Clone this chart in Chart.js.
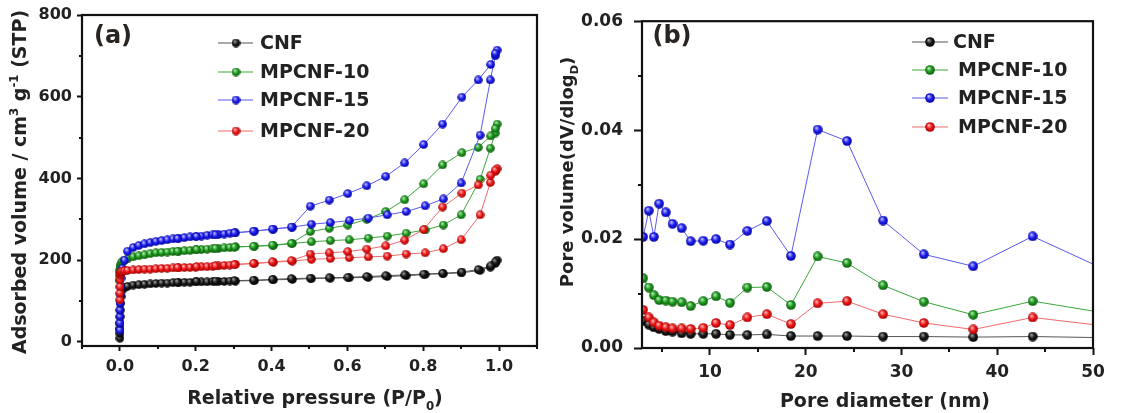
<!DOCTYPE html>
<html><head><meta charset="utf-8">
<script src="https://cdn.jsdelivr.net/npm/chart.js@4.4.1/dist/chart.umd.min.js"></script>
<style>
html,body{margin:0;padding:0;background:#fff;width:1130px;height:413px;overflow:hidden;}
#wa{position:absolute;left:0;top:0;width:560px;height:413px;}
#wb{position:absolute;left:560px;top:0;width:570px;height:413px;}
</style></head><body>
<div id="wa"><canvas id="ca" width="560" height="413"></canvas></div>
<div id="wb"><canvas id="cb" width="570" height="413"></canvas></div>
<script>
// ---------- Panel (a): N2 isotherms ----------
const seriesNames = ['CNF', 'MPCNF-10', 'MPCNF-15', 'MPCNF-20'];
const lowP = [0.00002, 0.00005, 0.0001, 0.0002, 0.0004, 0.0008, 0.0015, 0.003, 0.006, 0.012];
const cnfLowV  = [9, 21, 33, 46, 62, 78, 95, 111, 127, 133];
const mp10LowV = [150, 162, 170, 176, 181, 185, 189, 193, 197, 200];
const mp15LowV = [29, 46, 62, 78, 95, 115, 135, 156, 180, 200];
const mp20LowV = [103, 119, 135, 152, 163, 168, 170, 172, 173, 174];
const adsP = [0.02, 0.035, 0.05, 0.065, 0.08, 0.095, 0.11, 0.125, 0.14, 0.155, 0.17, 0.185, 0.2, 0.215, 0.23, 0.245, 0.26, 0.275, 0.29, 0.305, 0.355, 0.405, 0.455, 0.505, 0.555, 0.605, 0.655, 0.705, 0.755, 0.805, 0.853, 0.9, 0.95, 0.977, 0.99, 0.995];
const cnfAdsV  = [136, 139, 140, 141, 142, 143, 144, 144, 145, 145, 146, 146, 147, 147, 147, 148, 148, 148, 149, 149, 150, 152, 153, 155, 156, 157, 158, 160, 162, 165, 167, 169, 175, 183, 192, 200];
const mp10AdsV = [203, 208, 211, 213, 216, 218, 219, 220, 221, 222, 223, 224, 225, 226, 227, 228, 229, 230, 231, 233, 234, 236, 241, 245, 248, 250, 254, 259, 266, 274, 286, 311, 398, 474, 511, 533];
const mp15AdsV = [222, 231, 236, 240, 243, 246, 248, 250, 252, 254, 255, 257, 258, 259, 261, 262, 263, 264, 266, 267, 271, 276, 281, 288, 292, 297, 303, 311, 319, 333, 350, 389, 506, 641, 700, 714];
const mp20AdsV = [175, 176, 177, 178, 178, 179, 180, 180, 181, 181, 182, 182, 183, 184, 184, 185, 186, 187, 188, 190, 192, 195, 198, 202, 204, 206, 208, 210, 215, 218, 228, 250, 311, 390, 417, 424];
const desP = [0.99, 0.978, 0.945, 0.902, 0.851, 0.801, 0.751, 0.701, 0.651, 0.601, 0.552, 0.502, 0.452, 0.402, 0.352, 0.302, 0.252, 0.202, 0.152];
const cnfDesV  = [196, 186, 177, 171, 168, 166, 164, 162, 160, 158, 157, 156, 155, 153, 151, 150, 149, 148, 146];
const mp10DesV = [522, 504, 476, 463, 433, 387, 348, 319, 300, 286, 278, 270, 241, 237, 234, 232, 229, 226, 222];
const mp15DesV = [706, 679, 641, 599, 533, 483, 438, 405, 382, 363, 347, 332, 281, 276, 271, 267, 262, 258, 253];
const mp20DesV = [420, 408, 384, 364, 330, 275, 249, 235, 227, 221, 218, 215, 199, 196, 192, 189, 186, 184, 182];
const xTicksA = [0, 0.2, 0.4, 0.6, 0.8, 1.0];
const xMinorA = [-0.1, 0.1, 0.3, 0.5, 0.7, 0.9, 1.1];
const yTicksA = [0, 200, 400, 600, 800];
const yMinorA = [100, 300, 500, 700];

// ---------- Panel (b): pore size distribution ----------
const poreD  = [3.02, 3.61, 4.14, 4.69, 5.39, 6.09, 7.04, 7.98, 9.30, 10.63, 12.09, 13.9, 15.94, 18.45, 21.24, 24.31, 28.08, 32.33, 37.5, 43.7, 51];
const cnfPV  = [0.0050, 0.0043, 0.0038, 0.0035, 0.0031, 0.0030, 0.0027, 0.0026, 0.0026, 0.0026, 0.0024, 0.0024, 0.0025, 0.0022, 0.0022, 0.0022, 0.0021, 0.0021, 0.0020, 0.0021, 0.0019];
const mp10PV = [0.0128, 0.0111, 0.0097, 0.0088, 0.0087, 0.0085, 0.0084, 0.0077, 0.0086, 0.0095, 0.0083, 0.0111, 0.0112, 0.0079, 0.0168, 0.0156, 0.0115, 0.0085, 0.0061, 0.0086, 0.0065];
const mp15LeadD = [2.5];
const mp15LeadV = [0.075];
const mp15PV = [0.0204, 0.0252, 0.0204, 0.0265, 0.0249, 0.0228, 0.0220, 0.0196, 0.0197, 0.0200, 0.0190, 0.0215, 0.0233, 0.0169, 0.0401, 0.0380, 0.0234, 0.0172, 0.0150, 0.0205, 0.0146];
const mp20PV = [0.0070, 0.0056, 0.0047, 0.0041, 0.0038, 0.0036, 0.0036, 0.0035, 0.0037, 0.0046, 0.0042, 0.0056, 0.0062, 0.0044, 0.0082, 0.0086, 0.0062, 0.0046, 0.0034, 0.0056, 0.0041];
const xTicksB = [10, 20, 30, 40, 50];
const xMinorB = [5, 15, 25, 35, 45];
const yTicksB = [0, 0.02, 0.04, 0.06];
const yMinorB = [0.01, 0.03, 0.05];

// ---------- styling ----------
const FONT = "'DejaVu Sans', sans-serif";
Chart.defaults.font.family = FONT;
const lineColors = ['#555555', '#3aa63a', '#5a5aee', '#f06a6a'];
const sphereCols = [
  ['#9a9a9a', '#1a1a1a', '#000000'],
  ['#b0ecb0', '#1e9a1e', '#0a560a'],
  ['#c0c0ff', '#2020f0', '#00009a'],
  ['#ffb8b8', '#f01818', '#9a0000']
];
function sphere(c, d) {
  const cv = document.createElement('canvas'); cv.width = d; cv.height = d;
  const g = cv.getContext('2d'); const r = d / 2;
  const gr = g.createRadialGradient(r * 0.72, r * 0.62, r * 0.08, r, r, r);
  gr.addColorStop(0, c[0]); gr.addColorStop(0.5, c[1]); gr.addColorStop(1, c[2]);
  g.fillStyle = gr; g.beginPath(); g.arc(r, r, r - 0.2, 0, Math.PI * 2); g.fill();
  return cv;
}
const imgsA = sphereCols.map(c => sphere(c, 9));
const imgsB = sphereCols.map(c => sphere(c, 10));
function pairs(xs, ys) { return xs.map((x, i) => ({ x: x, y: ys[i] })); }

const ptsA = [
  pairs(lowP, cnfLowV).concat(pairs(adsP, cnfAdsV), pairs(desP, cnfDesV)),
  pairs(lowP, mp10LowV).concat(pairs(adsP, mp10AdsV), pairs(desP, mp10DesV)),
  pairs(lowP, mp15LowV).concat(pairs(adsP, mp15AdsV), pairs(desP, mp15DesV)),
  pairs(lowP, mp20LowV).concat(pairs(adsP, mp20AdsV), pairs(desP, mp20DesV))
];
const ptsB = [
  pairs(poreD, cnfPV),
  pairs(poreD, mp10PV),
  pairs(mp15LeadD, mp15LeadV).concat(pairs(poreD, mp15PV)),
  pairs(poreD, mp20PV)
];

function drawRich(ctx, x, y, rot, segs, size) {
  ctx.save();
  ctx.translate(x, y); ctx.rotate(rot);
  ctx.fillStyle = '#222'; ctx.textBaseline = 'alphabetic'; ctx.textAlign = 'left';
  let total = 0;
  segs.forEach(s => { const fs = s.k ? size * 0.62 : size; ctx.font = 'bold ' + fs + 'px ' + FONT; s.w = ctx.measureText(s.t).width; total += s.w; });
  let cx = -total / 2;
  segs.forEach(s => {
    const fs = s.k ? size * 0.62 : size; ctx.font = 'bold ' + fs + 'px ' + FONT;
    const dy = s.k === 'sup' ? -size * 0.42 : (s.k === 'sub' ? size * 0.3 : 0);
    ctx.fillText(s.t, cx, dy); cx += s.w;
  });
  ctx.restore();
}

const deco = {
  id: 'deco',
  afterDatasetsDraw(chart, args, o) {
    const ctx = chart.ctx, a = chart.chartArea, xs = chart.scales.x, ys = chart.scales.y;
    ctx.save();
    ctx.strokeStyle = '#111'; ctx.lineWidth = 2;
    ctx.beginPath();
    o.minorX.forEach(v => { const p = Math.round(xs.getPixelForValue(v)); ctx.moveTo(p, a.bottom); ctx.lineTo(p, a.bottom + o.minorLen); });
    o.minorY.forEach(v => { const p = Math.round(ys.getPixelForValue(v)); ctx.moveTo(a.left, p); ctx.lineTo(a.left - o.minorLen, p); });
    ctx.stroke();
    ctx.lineWidth = 2.2;
    ctx.strokeRect(a.left, a.top, a.right - a.left, a.bottom - a.top);
    // legend
    const L = o.legend;
    chart.data.datasets.forEach((ds, i) => {
      const yy = L.rows[i];
      ctx.strokeStyle = ds.borderColor; ctx.lineWidth = 1.2;
      ctx.beginPath(); ctx.moveTo(L.x0, yy); ctx.lineTo(L.x1, yy); ctx.stroke();
      const im = ds.pointStyle; ctx.drawImage(im, L.xm - im.width / 2, yy - im.height / 2);
      ctx.fillStyle = '#222'; ctx.font = 'bold ' + L.size + 'px ' + FONT;
      ctx.textAlign = 'left'; ctx.textBaseline = 'middle';
      ctx.fillText(ds.label, L.tx[i], yy + 1);
    });
    // panel label
    ctx.fillStyle = '#2a2420'; ctx.font = 'bold 24px ' + FONT;
    ctx.textAlign = 'center'; ctx.textBaseline = 'middle';
    ctx.fillText(o.panel.text, o.panel.x, o.panel.y);
    // axis titles
    drawRich(ctx, o.xTitle.x, o.xTitle.y, 0, o.xTitle.segs, o.xTitle.size);
    drawRich(ctx, o.yTitle.x, o.yTitle.y, -Math.PI / 2, o.yTitle.segs, o.yTitle.size);
    ctx.restore();
  }
};

function axisX(min, max, ticks, fmt, h, tl, pad, fs) {
  return {
    type: 'linear', min: min, max: max,
    afterBuildTicks: s => { s.ticks = ticks.map(v => ({ value: v })); },
    afterFit: s => { s.height = h; },
    ticks: { callback: v => fmt(v), font: { size: fs, weight: 'bold' }, color: '#222', padding: pad, maxRotation: 0, autoSkip: false },
    grid: { drawOnChartArea: false, drawTicks: true, tickLength: tl, tickWidth: 2, tickColor: '#111' },
    border: { display: false }
  };
}
function axisY(min, max, ticks, fmt, w, tl, pad, fs) {
  return {
    type: 'linear', min: min, max: max,
    afterBuildTicks: s => { s.ticks = ticks.map(v => ({ value: v })); },
    afterFit: s => { s.width = w; },
    ticks: { callback: v => fmt(v), font: { size: fs, weight: 'bold' }, color: '#222', padding: pad, autoSkip: false },
    grid: { drawOnChartArea: false, drawTicks: true, tickLength: tl, tickWidth: 2, tickColor: '#111' },
    border: { display: false }
  };
}
function makeDatasets(pts, imgs, r) {
  return pts.map((p, i) => ({
    label: seriesNames[i], data: p, showLine: true, borderColor: lineColors[i], borderWidth: 1,
    pointStyle: imgs[i], pointRadius: r, pointHoverRadius: r, order: 4 - i, tension: 0
  }));
}

new Chart(document.getElementById('ca'), {
  type: 'scatter',
  data: { datasets: makeDatasets(ptsA, imgsA, 4.5) },
  options: {
    responsive: false, animation: false, devicePixelRatio: 1,
    layout: { padding: { left: 0, top: 15, right: 23, bottom: 0 } },
    events: [],
    plugins: {
      legend: { display: false }, tooltip: { enabled: false },
      deco: {
        minorX: xMinorA, minorY: yMinorA, minorLen: 3,
        legend: { x0: 218, x1: 253, xm: 236, tx: [260, 260, 260, 260], rows: [43, 72, 100, 131], size: 19 },
        panel: { text: '(a)', x: 113, y: 37 },
        xTitle: { x: 315, y: 404, size: 19, segs: [{ t: 'Relative pressure (P/P' }, { t: '0', k: 'sub' }, { t: ')' }] },
        yTitle: { x: 26, y: 182, size: 19, segs: [{ t: 'Adsorbed volume / cm' }, { t: '3', k: 'sup' }, { t: ' g' }, { t: '-1', k: 'sup' }, { t: ' (STP)' }] }
      }
    },
    scales: {
      x: axisX(-0.1, 1.1, xTicksA, v => v.toFixed(1), 67, 5, 6, 16),
      y: axisY(-10, 800, yTicksA, v => String(v), 82, 5, 5, 16)
    }
  },
  plugins: [deco]
});

new Chart(document.getElementById('cb'), {
  type: 'scatter',
  data: { datasets: makeDatasets(ptsB, imgsB, 5) },
  options: {
    responsive: false, animation: false, devicePixelRatio: 1,
    layout: { padding: { left: 0, top: 15, right: 37, bottom: 0 } },
    events: [],
    plugins: {
      legend: { display: false }, tooltip: { enabled: false },
      deco: {
        minorX: xMinorB, minorY: yMinorB, minorLen: 4,
        legend: { x0: 352, x1: 388, xm: 370, tx: [393, 398, 398, 398], rows: [42, 70, 98, 127], size: 19 },
        panel: { text: '(b)', x: 112, y: 37 },
        xTitle: { x: 325, y: 407, size: 19, segs: [{ t: 'Pore diameter (nm)' }] },
        yTitle: { x: 13, y: 172, size: 18, segs: [{ t: 'Pore volume(dV/dlog' }, { t: 'D', k: 'sub' }, { t: ')' }] }
      }
    },
    scales: {
      x: axisX(2.9, 50, xTicksB, v => String(v), 65, 7, 7, 17),
      y: axisY(0, 0.06, yTicksB, v => v.toFixed(2), 82, 8, 11, 17)
    }
  },
  plugins: [deco]
});
</script>
</body></html>
